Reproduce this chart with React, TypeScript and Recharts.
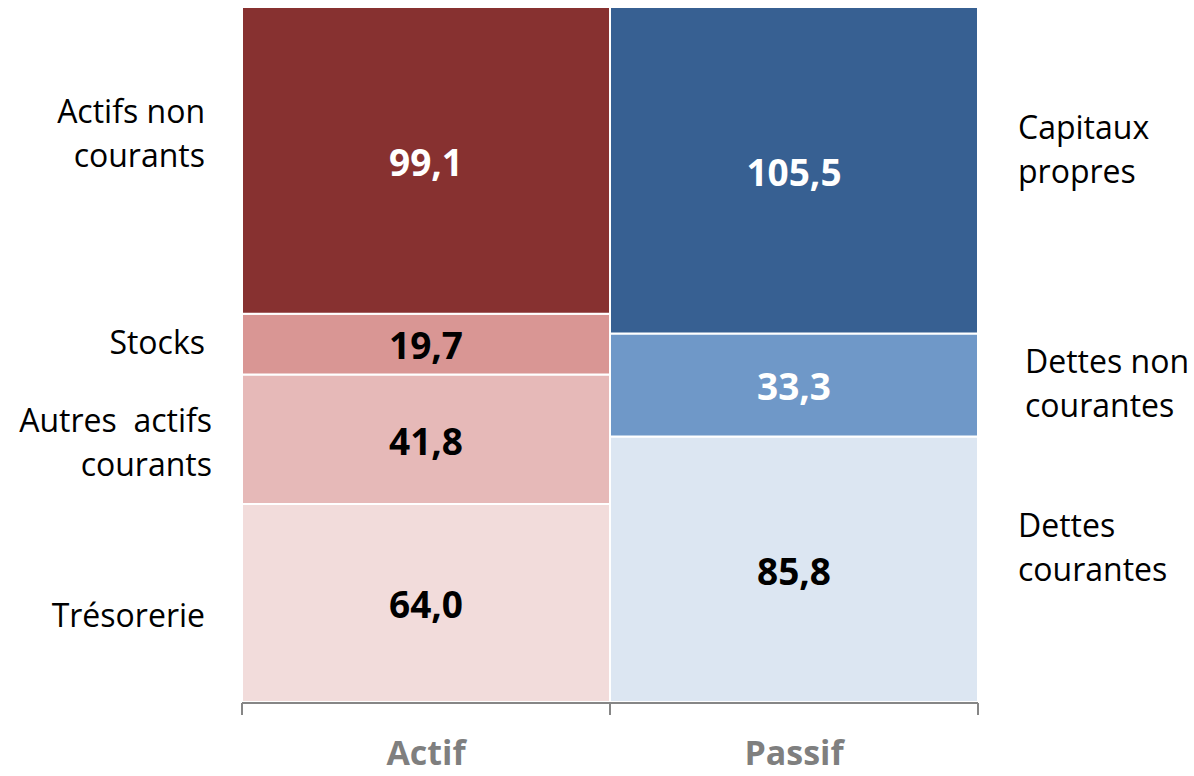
import { BarChart, Bar, XAxis, YAxis, LabelList } from 'recharts'

const categories = ['Actif', 'Passif']

// Actif, de bas en haut
const actifKeys = ['tresorerie', 'autresActifs', 'stocks', 'actifsNonCourants']
const actifNames = ['Trésorerie', 'Autres  actifs\ncourants', 'Stocks', 'Actifs non\ncourants']
const actifValues = [64.0, 41.8, 19.7, 99.1]

// Passif, de bas en haut
const passifKeys = ['dettesCourantes', 'dettesNonCourantes', 'capitauxPropres']
const passifNames = ['Dettes\ncourantes', 'Dettes non\ncourantes', 'Capitaux\npropres']
const passifValues = [85.8, 33.3, 105.5]

// bornes des deux colonnes (graduations de l'axe)
const edgeTicks = [0, 1, 2]

const total = 224.6

const FONT = '"Open Sans", sans-serif'
const AXIS = '#868686'

// couleurs + décalages des étiquettes latérales
const actifStyle = [
  { fill: '#F2DCDB', text: '#000', dy: 24, dx: 37 },
  { fill: '#E6B9B8', text: '#000', dy: 15, dx: 30 },
  { fill: '#D99694', text: '#000', dy: 10, dx: 37 },
  { fill: '#873130', text: '#fff', dy: -15, dx: 37 },
]
const passifStyle = [
  { fill: '#DCE6F2', text: '#000', dy: -10, dx: 40 },
  { fill: '#6F98C8', text: '#fff', dy: 10, dx: 47 },
  { fill: '#376092', text: '#fff', dy: -9, dx: 40 },
]

const data = categories.map((cat, i) => {
  const row: Record<string, string | number> = { cat }
  if (i === 0) actifKeys.forEach((k, j) => (row[k] = actifValues[j]))
  else passifKeys.forEach((k, j) => (row[k] = passifValues[j]))
  return row
})

const fmt = (v: number) => v.toFixed(1).replace('.', ',')

function valueLabel(color: string) {
  return (props: any) => {
    const { x, y, width, height, value } = props
    if (value == null || !height) return null
    return (
      <text
        x={x + width / 2}
        y={y + height / 2 + 2}
        dy="0.36em"
        textAnchor="middle"
        fill={color}
        fontFamily={FONT}
        fontWeight={700}
        fontSize={37}
      >
        {fmt(Number(value))}
      </text>
    )
  }
}

function sideLabel(name: string, side: 'left' | 'right', dx: number, dy: number) {
  const lines = name.split('\n')
  return (props: any) => {
    const { x, y, width, height, value } = props
    if (value == null || !height) return null
    const tx = side === 'left' ? x - dx : x + width + dx
    const cy = y + height / 2 + dy
    const lh = 44
    return (
      <text
        x={tx}
        y={cy - ((lines.length - 1) * lh) / 2}
        dy="0.36em"
        textAnchor={side === 'left' ? 'end' : 'start'}
        fill="#000"
        fontFamily={FONT}
        fontSize={32}
        style={{ whiteSpace: 'pre' }}
      >
        {lines.map((l, i) => (
          <tspan key={i} x={tx} dy={i === 0 ? 0 : lh}>
            {l}
          </tspan>
        ))}
      </text>
    )
  }
}

// étiquette de catégorie + graduation de séparation à droite de la bande
const CatTick = (props: any) => {
  const { x, y, payload, index, width, visibleTicksCount } = props
  const half = width && visibleTicksCount ? width / visibleTicksCount / 2 : 0
  const showDivider = index === 0 && half > 0
  return (
    <g>
      {showDivider && (
        <line x1={x + half} x2={x + half} y1={y - 8} y2={y + 5} stroke={AXIS} strokeWidth={2} />
      )}
      <text
        x={x}
        y={y + 43}
        dy="0.36em"
        textAnchor="middle"
        fill="#7F7F7F"
        fontFamily={FONT}
        fontWeight={700}
        fontSize={34}
      >
        {payload.value}
      </text>
    </g>
  )
}

export default function App() {
  return (
    <div style={{ position: 'absolute', left: 0, top: 0, background: '#fff' }}>
      <BarChart
        width={1194}
        height={776}
        data={data}
        barCategoryGap={0}
        margin={{ top: 7, right: 216, left: 242, bottom: 14 }}
      >
        <XAxis dataKey="cat" axisLine={false} tickLine={false} tick={<CatTick />} height={1} interval={0} />
        <XAxis
          xAxisId="edge"
          type="number"
          domain={[0, 2]}
          ticks={edgeTicks}
          interval={0}
          minTickGap={0}
          tickSize={12}
          tickFormatter={() => ''}
          stroke={AXIS}
          strokeWidth={2}
          height={59}
        />
        <YAxis hide domain={[0, total]} />
        {actifKeys.map((k, j) => (
          <Bar
            key={k}
            dataKey={k}
            stackId="s"
            fill={actifStyle[j].fill}
            stroke="#fff"
            strokeWidth={2}
            isAnimationActive={false}
          >
            <LabelList dataKey={k} content={valueLabel(actifStyle[j].text)} />
            <LabelList dataKey={k} content={sideLabel(actifNames[j], 'left', actifStyle[j].dx, actifStyle[j].dy)} />
          </Bar>
        ))}
        {passifKeys.map((k, j) => (
          <Bar
            key={k}
            dataKey={k}
            stackId="s"
            fill={passifStyle[j].fill}
            stroke="#fff"
            strokeWidth={2}
            isAnimationActive={false}
          >
            <LabelList dataKey={k} content={valueLabel(passifStyle[j].text)} />
            <LabelList dataKey={k} content={sideLabel(passifNames[j], 'right', passifStyle[j].dx, passifStyle[j].dy)} />
          </Bar>
        ))}
      </BarChart>
    </div>
  )
}
